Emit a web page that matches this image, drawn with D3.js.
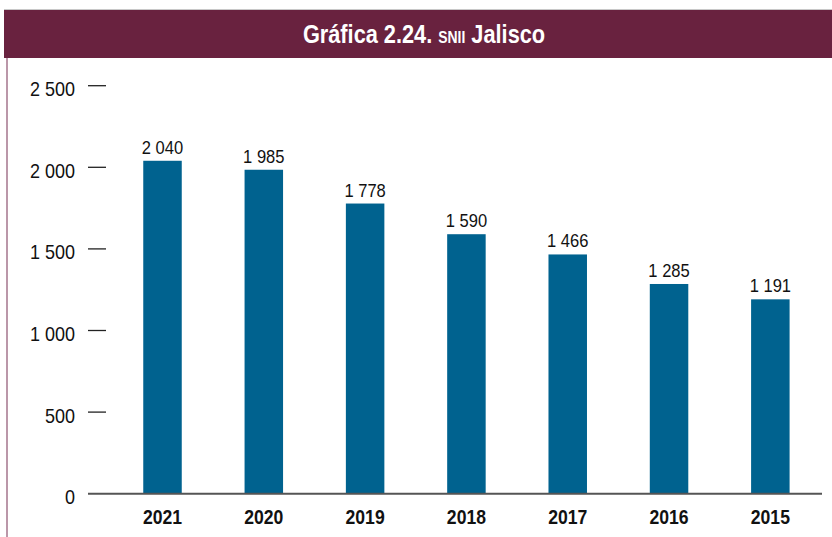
<!DOCTYPE html>
<html><head><meta charset="utf-8">
<script src="https://cdn.jsdelivr.net/npm/d3@7"></script>
<style>
html,body{margin:0;padding:0;background:#fff;}
svg{display:block;}
</style></head>
<body>
<svg id="chart" width="832" height="537"></svg>
<script>
const categories = ["2021","2020","2019","2018","2017","2016","2015"];
const values = [2040, 1985, 1778, 1590, 1466, 1285, 1191];
const valueLabels = ["2 040","1 985","1 778","1 590","1 466","1 285","1 191"];
const yTicks = [0, 500, 1000, 1500, 2000, 2500];
const yTickLabels = ["0","500","1 000","1 500","2 000","2 500"];

const svg = d3.select("#chart");
const W = 832, H = 537;
const font = "'Liberation Sans',Arial,sans-serif";

// frame
svg.append("line").attr("x1",4).attr("x2",W).attr("y1",9.5).attr("y2",9.5)
  .attr("stroke","#c8c8c8").attr("stroke-width",1);
svg.append("rect").attr("x",4).attr("y",10).attr("width",W-4).attr("height",48).attr("fill","#69223f");
svg.append("line").attr("x1",7).attr("x2",7).attr("y1",58).attr("y2",H)
  .attr("stroke","#a4758d").attr("stroke-width",1.5);

// title
const t = svg.append("g").attr("transform","translate(424,43) scale(0.87,1)")
  .append("text").attr("x",0).attr("y",0).attr("text-anchor","middle")
  .attr("fill","#fff").attr("font-family",font).attr("font-weight","bold").attr("font-size",25);
t.append("tspan").text("Gráfica 2.24. ");
t.append("tspan").attr("font-size",16).text("SNII");
t.append("tspan").text(" Jalisco");

const y = d3.scaleLinear().domain([0,2500]).range([493.7, 85.7]);
const x = d3.scaleBand().domain(categories).range([111.85, 821])
  .paddingInner(0.62).paddingOuter(0.31);

// y axis
const yAxis = d3.axisLeft(y).tickValues(yTicks).tickFormat((d,i)=>yTickLabels[i])
  .tickSize(0).tickPadding(0);
const yg = svg.append("g").attr("transform","translate(75,0)").call(yAxis);
yg.select(".domain").remove();
yg.selectAll("text").attr("x",0).attr("font-family",font).attr("font-size",20).attr("fill","#111")
  .attr("dy","0.5em").attr("transform","scale(0.9,1)");
svg.append("g").selectAll("line").data(yTicks.filter(d=>d>0)).join("line")
  .attr("x1",88).attr("x2",106).attr("y1",d=>y(d)).attr("y2",d=>y(d))
  .attr("stroke","#222").attr("stroke-width",1.3);

// bars
svg.append("g").selectAll("rect").data(values).join("rect")
  .attr("x",(d,i)=>x(categories[i])).attr("width",x.bandwidth())
  .attr("y",d=>y(d)).attr("height",d=>y(0)-y(d)).attr("fill","#00628f");

// baseline
svg.append("line").attr("x1",88).attr("x2",822).attr("y1",y(0)).attr("y2",y(0))
  .attr("stroke","#555").attr("stroke-width",2);

// value labels
svg.append("g").selectAll("g").data(values).join("g")
  .attr("transform",(d,i)=>`translate(${x(categories[i])+x.bandwidth()/2},${y(d)-7}) scale(0.92,1)`)
  .append("text").attr("text-anchor","middle").attr("font-family",font).attr("font-size",18).attr("fill","#111")
  .text((d,i)=>valueLabels[i]);

// x axis
const xAxis = d3.axisBottom(x).tickSize(0).tickPadding(0);
const xg = svg.append("g").attr("transform",`translate(0,${y(0)})`).call(xAxis);
xg.select(".domain").remove();
xg.selectAll("text").attr("y",0).attr("font-family",font).attr("font-size",20).attr("font-weight","bold")
  .attr("fill","#111").attr("dy","1.5em").attr("transform","scale(0.88,1)");
</script>
</body></html>
